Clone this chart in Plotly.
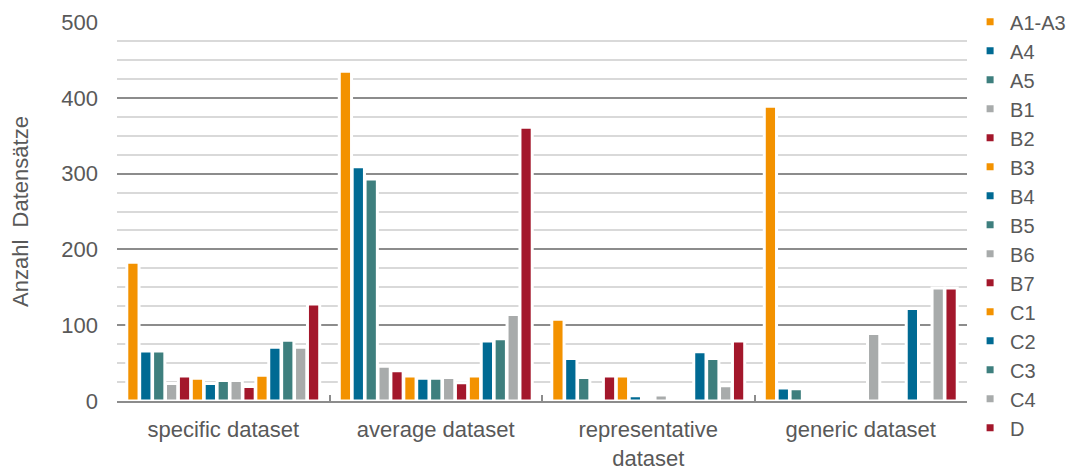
import plotly.graph_objects as go

# Dataset categories shown on the x axis
categories = ["specific dataset", "average dataset", "representative<br>dataset", "generic dataset"]

# Life-cycle modules (one bar series each)
modules = ["A1-A3", "A4", "A5", "B1", "B2", "B3", "B4", "B5", "B6", "B7", "C1", "C2", "C3", "C4", "D"]

# Number of datasets per module, ordered like `categories`
a1_a3 = [183, 435, 108, 389]
a4 = [66, 309, 56, 17]
a5 = [66, 293, 31, 16]
b1 = [23, 46, 0, 0]
b2 = [33, 40, 33, 0]
b3 = [30, 33, 33, 0]
b4 = [23, 30, 7, 0]
b5 = [27, 30, 0, 0]
b6 = [27, 31, 8, 89]
b7 = [19, 24, 0, 0]
c1 = [34, 33, 0, 0]
c2 = [71, 79, 65, 122]
c3 = [80, 82, 56, 3]
c4 = [71, 114, 20, 149]
d = [128, 361, 79, 149]

series = [a1_a3, a4, a5, b1, b2, b3, b4, b5, b6, b7, c1, c2, c3, c4, d]

ORANGE = "#F39200"
BLUE = "#006A93"
TEAL = "#3E7F7E"
GREY = "#A8ABAB"
RED = "#A3172B"
palette = [ORANGE, BLUE, TEAL, GREY, RED] * 3

TEXT = "#595959"
FONT = "Liberation Sans, Arial, sans-serif"

fig = go.Figure()

for name, vals, col in zip(modules, series, palette):
    fig.add_trace(go.Bar(
        x=categories, y=vals, name=name, showlegend=False,
        marker=dict(color=col,
                    line=dict(color="white", width=[0 if v == 0 else 3 for v in vals])),
    ))

# Legend entries with small square swatches
for name, col in zip(modules, palette):
    fig.add_trace(go.Scatter(
        x=[None], y=[None], mode="markers", name=name,
        marker=dict(symbol="square", size=7, color=col),
    ))

fig.update_layout(
    width=1090, height=472,
    margin=dict(l=117, r=123, t=22, b=71, autoexpand=False),
    paper_bgcolor="white", plot_bgcolor="white",
    barmode="group", bargap=0.089, bargroupgap=0.05,
    font=dict(family=FONT, color=TEXT, size=22),
    legend=dict(
        xref="container", yref="container",
        x=0.89, xanchor="left", y=0.995, yanchor="top",
        maxheight=472,
        font=dict(size=20, color=TEXT, family=FONT),
        itemsizing="trace", bgcolor="rgba(0,0,0,0)",
    ),
)

fig.update_xaxes(
    showline=True, linecolor="#8C8C8C", linewidth=1.5,
    ticks="inside", tickson="boundaries", ticklen=6, tickcolor="#8C8C8C", tickwidth=1.5,
    showgrid=False, ticklabelstandoff=8,
    tickfont=dict(size=22, color=TEXT, family=FONT),
)

fig.update_yaxes(
    range=[0, 500], dtick=100, tick0=0,
    showgrid=True, gridcolor="#8C8C8C", gridwidth=1.8,
    minor=dict(dtick=25, tick0=0, showgrid=True, gridcolor="#D9D9D9", gridwidth=1.5),
    zeroline=False, showline=False, ticks="",
    ticklabelstandoff=18,
    tickfont=dict(size=22, color=TEXT, family=FONT),
    title=dict(text="Anzahl  Datensätze", font=dict(size=22, color=TEXT, family=FONT), standoff=26),
)

fig.write_html("out.html")
